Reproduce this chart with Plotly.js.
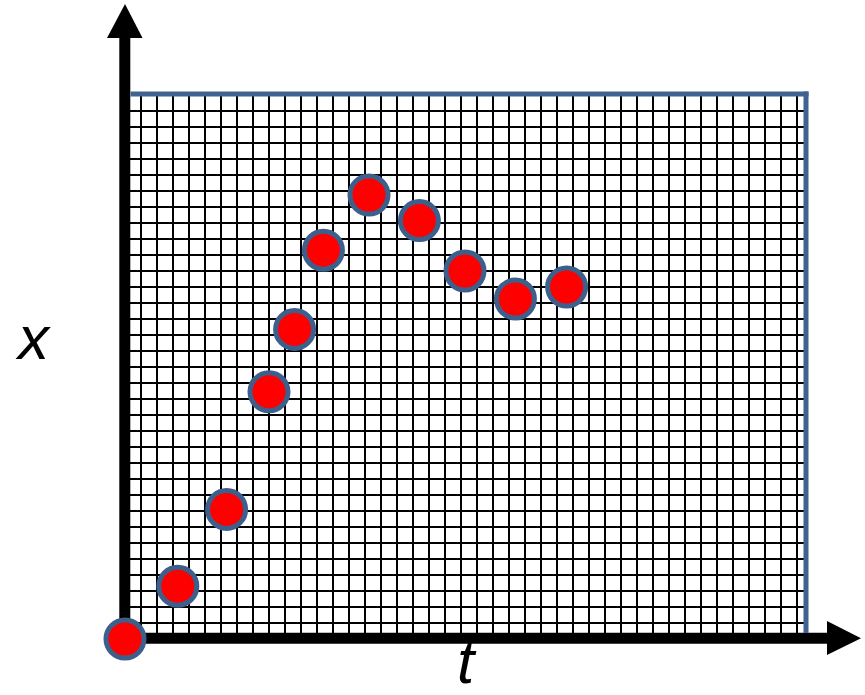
<!DOCTYPE html>
<html>
<head>
<meta charset="utf-8">
<script src="https://cdn.plot.ly/plotly-3.0.1.min.js"></script>
<style>html,body{margin:0;padding:0;background:#fff;}#chart{width:865px;height:695px;}</style>
</head>
<body>
<div id="chart"></div>
<script>
// Data (grid units: one grid cell = 1)
const tValues = [0, 3.3, 6.35, 9.0, 10.6, 12.4, 15.25, 18.4, 21.25, 24.4, 27.6];
const xValues = [0, 3.3, 8.1, 15.45, 19.35, 24.3, 27.75, 26.15, 23.0, 21.25, 22.0];
const xAxisLabel = 't';
const yAxisLabel = 'x';
const tRange = [0, 42.5625];
const xRange = [0, 34.0625];

// layout helpers (pixel -> paper)
const L = 125, R = 806, T = 94, B = 639;
const PX = p => (p - L) / (R - L);
const PY = p => (B - p) / (B - T);

const axisColor = '#000000';
const borderColor = '#3F6291';

const shapes = [
  {type:'line', xref:'paper', yref:'paper', x0:PX(124.8), x1:PX(124.8), y0:PY(644), y1:PY(36), line:{color:axisColor, width:11}, layer:'below'},
  {type:'path', xref:'paper', yref:'paper', path:`M ${PX(107)} ${PY(38)} L ${PX(125)} ${PY(4)} L ${PX(142.5)} ${PY(38)} Z`, fillcolor:axisColor, line:{width:0}, layer:'below'},
  {type:'line', xref:'paper', yref:'paper', x0:PX(119.3), x1:PX(829), y0:PY(638.2), y1:PY(638.2), line:{color:axisColor, width:11}, layer:'below'},
  {type:'path', xref:'paper', yref:'paper', path:`M ${PX(827)} ${PY(621)} L ${PX(861)} ${PY(638.2)} L ${PX(827)} ${PY(655)} Z`, fillcolor:axisColor, line:{width:0}, layer:'below'},
  {type:'line', xref:'paper', yref:'paper', x0:PX(130.5), x1:PX(808.5), y0:PY(94), y1:PY(94), line:{color:borderColor, width:5}, layer:'above'},
  {type:'line', xref:'paper', yref:'paper', x0:PX(806), x1:PX(806), y0:PY(91.5), y1:PY(633), line:{color:borderColor, width:5}, layer:'above'}
];

const trace = {
  x: tValues, y: xValues, type:'scatter', mode:'markers', cliponaxis:false,
  marker:{size:38, color:'#FF0000', line:{color:'#3D5F8C', width:5}},
  hoverinfo:'skip'
};

const labelFont = {family:'Liberation Sans, Arial, sans-serif', size:62, color:'#000', style:'italic'};

const layout = {
  width:865, height:695,
  margin:{l:L, r:865-R, t:T, b:695-B, pad:0},
  paper_bgcolor:'#ffffff', plot_bgcolor:'rgba(0,0,0,0)',
  showlegend:false,
  xaxis:{range:tRange, dtick:1, tick0:0, showgrid:true, gridcolor:'#000', gridwidth:2.3, zeroline:false, showline:false, showticklabels:false, ticks:'', fixedrange:true},
  yaxis:{range:xRange, dtick:1, tick0:0, showgrid:true, gridcolor:'#000', gridwidth:2.3, zeroline:false, showline:false, showticklabels:false, ticks:'', fixedrange:true},
  shapes: shapes,
  annotations:[
    {text:yAxisLabel, xref:'paper', yref:'paper', x:PX(33), y:PY(337), xanchor:'center', yanchor:'middle', showarrow:false, font:labelFont},
    {text:xAxisLabel, xref:'paper', yref:'paper', x:PX(467), y:PY(661), xanchor:'center', yanchor:'middle', showarrow:false, font:labelFont}
  ]
};

Plotly.newPlot('chart', [trace], layout, {staticPlot:true, displayModeBar:false});
</script>
</body>
</html>
